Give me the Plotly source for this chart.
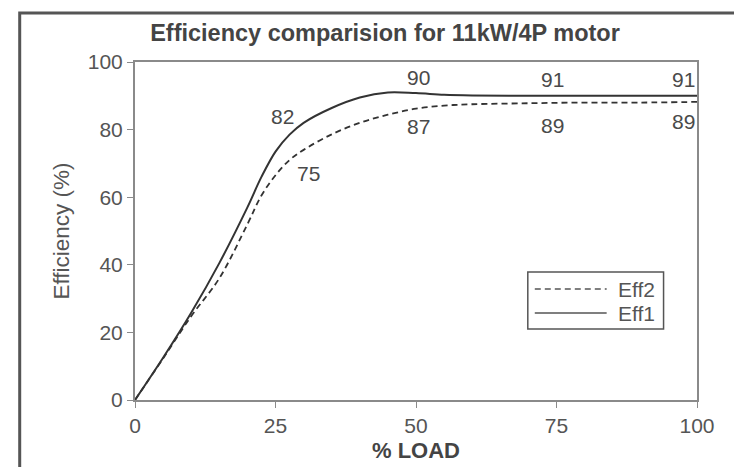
import numpy as np
import plotly.graph_objects as go

# ---- data ----
load = [0, 5, 10, 15, 20, 22.5, 25, 27.5, 30, 35, 40, 45, 50, 55, 60, 70, 80, 90, 100]
eff1 = [0, 12.5, 25.8, 40.5, 57.0, 66.0, 73.5, 78.5, 82.0, 86.4, 89.5, 91.0, 90.8, 90.3, 90.1, 90.0, 90.0, 90.0, 90.0]
eff2 = [0, 12.3, 24.8, 36.0, 52.0, 60.5, 66.5, 71.0, 74.0, 78.6, 82.0, 84.4, 86.2, 87.1, 87.5, 87.8, 88.0, 88.0, 88.2]

label_load = [25, 50, 75, 100]
eff1_labels = [82, 90, 91, 91]
eff2_labels = [75, 87, 89, 89]

x_ticks = [0, 25, 50, 75, 100]
y_ticks = [0, 20, 40, 60, 80, 100]

title_text = "Efficiency comparision for 11kW/4P motor"
x_title = "% LOAD"
y_title = "Efficiency (%)"
legend_names = ["Eff2", "Eff1"]

# ---- layout constants (pixels) ----
W, H = 734, 467
L, R, T, B = 134.5, 36.5, 62, 67
PW, PH = W - L - R, H - T - B

FONT = "Liberation Sans, Arial, Helvetica, sans-serif"
TXT = "#4a4a4a"
LINE = "#333333"
AX = "#8a8a8a"
DASH = "6px,4px"


def px_to_paper_x(px):
    return (px - L) / PW


def px_to_paper_y(py):
    return (H - B - py) / PH


fig = go.Figure()
fig.add_trace(go.Scatter(x=load, y=eff2, name=legend_names[0], mode="lines",
                         line=dict(color=LINE, width=1.8, dash=DASH, shape="spline", smoothing=1.0)))
fig.add_trace(go.Scatter(x=load, y=eff1, name=legend_names[1], mode="lines",
                         line=dict(color=LINE, width=2, shape="spline", smoothing=1.0)))

annotations = []
e1_off = [(7, 35, "center"), (2, 16, "center"), (-4, 16, "center"), (0, 16, "right")]
e2_off = [(33, 2, "center"), (2, -18, "center"), (-4, -23, "center"), (0, -20, "right")]
for i, xv in enumerate(label_load):
    y1 = float(np.interp(xv, load, eff1))
    y2 = float(np.interp(xv, load, eff2))
    dx, dy, xa = e1_off[i]
    annotations.append(dict(x=xv, y=y1, text=str(eff1_labels[i]), showarrow=False,
                            xshift=dx, yshift=dy, xanchor=xa, yanchor="middle",
                            font=dict(family=FONT, size=21, color=TXT)))
    dx, dy, xa = e2_off[i]
    annotations.append(dict(x=xv, y=y2, text=str(eff2_labels[i]), showarrow=False,
                            xshift=dx, yshift=dy, xanchor=xa, yanchor="middle",
                            font=dict(family=FONT, size=21, color=TXT)))

# manual legend (box, line samples, labels)
leg_x0, leg_x1, leg_y0, leg_y1 = 528, 664, 272, 329
row_y = [289, 313]
shapes = [
    # outer scanned frame (left and top edges)
    dict(type="path", xref="paper", yref="paper",
         path=f"M {px_to_paper_x(19)},{px_to_paper_y(480)} L {px_to_paper_x(19)},{px_to_paper_y(13)} L {px_to_paper_x(760)},{px_to_paper_y(13)}",
         line=dict(color="#555555", width=3)),
    dict(type="rect", xref="paper", yref="paper",
         x0=px_to_paper_x(leg_x0), x1=px_to_paper_x(leg_x1),
         y0=px_to_paper_y(leg_y1), y1=px_to_paper_y(leg_y0),
         line=dict(color="#555555", width=1.5), fillcolor="white", layer="above"),
]
for i, name in enumerate(legend_names):
    shapes.append(dict(type="line", xref="paper", yref="paper",
                       x0=px_to_paper_x(535), x1=px_to_paper_x(607),
                       y0=px_to_paper_y(row_y[i]), y1=px_to_paper_y(row_y[i]),
                       line=dict(color="#555555", width=1.6, dash=DASH if i == 0 else "solid"),
                       layer="above"))
    annotations.append(dict(xref="paper", yref="paper", x=px_to_paper_x(616), y=px_to_paper_y(row_y[i]),
                            text=name, showarrow=False, xanchor="left", yanchor="middle",
                            font=dict(family=FONT, size=21, color="#555555")))

fig.update_layout(
    width=W, height=H,
    margin=dict(l=L, r=R, t=T, b=B, autoexpand=False),
    paper_bgcolor="white", plot_bgcolor="white",
    font=dict(family=FONT, color=TXT, size=21),
    title=dict(text=f"<b>{title_text}</b>", x=385 / W, xref="container", xanchor="center",
               y=1 - 33 / H, yref="container", yanchor="middle",
               font=dict(family=FONT, size=23.5, color="#444444")),
    xaxis=dict(range=[0, 100], tickvals=x_ticks, ticks="outside", ticklen=6, tickcolor=AX,
               showline=True, linecolor=AX, linewidth=2, mirror=True, showgrid=False, zeroline=False,
               tickfont=dict(family=FONT, size=21, color="#555555"),
               title=dict(text=f"<b>{x_title}</b>", font=dict(family=FONT, size=22, color="#444444"), standoff=6)),
    yaxis=dict(range=[0, 100], tickvals=y_ticks, ticks="outside", ticklen=6, tickcolor=AX,
               showline=True, linecolor=AX, linewidth=2, mirror=True, showgrid=False, zeroline=False,
               tickfont=dict(family=FONT, size=21, color="#555555"),
               title=dict(text=y_title, font=dict(family=FONT, size=22.5, color="#555555"), standoff=12)),
    annotations=annotations,
    shapes=shapes,
    showlegend=False,
)

fig.write_html("out.html", config={"displayModeBar": False},
               post_script="document.body.style.margin='0';document.body.style.overflow='hidden';")
